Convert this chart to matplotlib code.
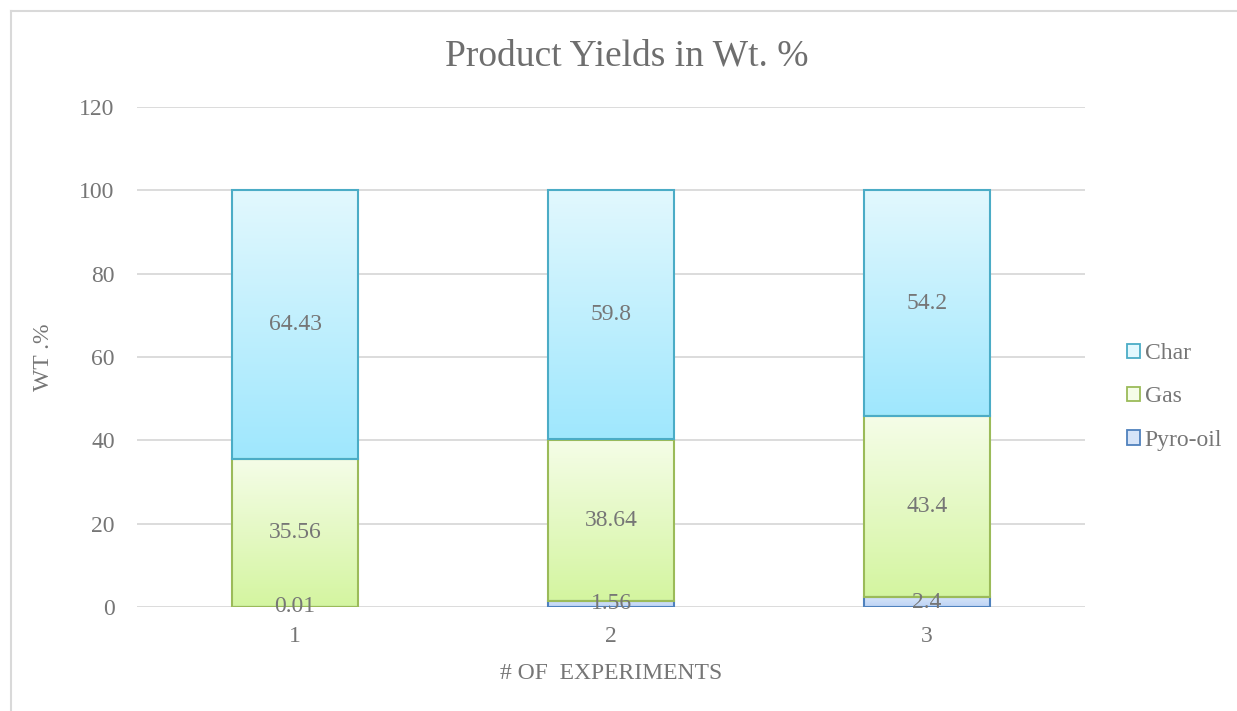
import numpy as np
import matplotlib
matplotlib.use("Agg")
import matplotlib.pyplot as plt
from matplotlib.colors import LinearSegmentedColormap
from matplotlib.patches import Patch
from matplotlib.lines import Line2D

# Data
experiments = ["1", "2", "3"]
pyro_oil = [0.01, 1.56, 2.4]
gas = [35.56, 38.64, 43.4]
char = [64.43, 59.8, 54.2]
series_names = ["Pyro-oil", "Gas", "Char"]
y_ticks = [0, 20, 40, 60, 80, 100, 120]

plt.rcParams["font.family"] = ["Liberation Serif", "DejaVu Serif"]

text_gray = "#767676"
grid_gray = "#d9d9d9"
fs = 17

# (top colour, bottom colour, edge colour) of each series
styles = {
    "Pyro-oil": ("#d6e4f8", "#bcd3f5", "#4f81bd"),
    "Gas": ("#f5fde8", "#d4f5a0", "#9bbb59"),
    "Char": ("#e2f8fe", "#9fe7fd", "#4bacc6"),
}

fig = plt.figure(figsize=(12.37, 7.11), dpi=100)
ax = fig.add_axes([137 / 1237, 1 - 607 / 711, (1085 - 137) / 1237, 500 / 711])

x = np.arange(1, len(experiments) + 1)
width = 0.40
bottom = np.zeros(len(x))
grad = np.linspace(0, 1, 256).reshape(-1, 1)

for name, vals in zip(series_names, [pyro_oil, gas, char]):
    top_c, bot_c, edge_c = styles[name]
    cmap = LinearSegmentedColormap.from_list(name, [top_c, bot_c])
    bars = ax.bar(x, vals, width=width, bottom=bottom, facecolor="none",
                  edgecolor=edge_c, linewidth=1.5, zorder=3)
    for rect, v in zip(bars.patches, vals):
        x0, y0 = rect.get_x(), rect.get_y()
        # gradient runs light at the top of each segment to stronger at its base
        ax.imshow(grad, extent=[x0, x0 + rect.get_width(), y0, y0 + rect.get_height()],
                  cmap=cmap, aspect="auto", origin="upper", zorder=2, interpolation="bilinear")
        ax.text(rect.get_x() + rect.get_width() / 2, y0 + rect.get_height() / 2,
                f"{v:g}", ha="center", va="center", fontsize=fs, color=text_gray, zorder=5)
    bottom = bottom + np.array(vals)

ax.set_xlim(0.5, 3.5)
ax.set_ylim(0, 120)
ax.set_yticks(y_ticks)
ax.set_xticks(x)
ax.set_xticklabels(experiments)
ax.tick_params(axis="both", length=0, labelsize=fs, labelcolor=text_gray)
ax.tick_params(axis="y", pad=16)
ax.tick_params(axis="x", pad=14)
ax.grid(axis="y", color=grid_gray, linewidth=1.3, zorder=0)
ax.set_axisbelow(True)
for s in ax.spines.values():
    s.set_visible(False)

ax.set_ylabel("WT .%", fontsize=fs, color=text_gray, labelpad=18)
ax.set_xlabel("# OF  EXPERIMENTS", fontsize=fs, color=text_gray, labelpad=11)

fig.text(627 / 1237, 1 - 56 / 711, "Product Yields in Wt. %", ha="center", va="center",
         fontsize=27, color="#6e6e6e")

handles = [Patch(facecolor=styles[n][0], edgecolor=styles[n][2], linewidth=1.3)
           for n in ["Char", "Gas", "Pyro-oil"]]
leg = fig.legend(handles, ["Char", "Gas", "Pyro-oil"], loc="center left",
                 bbox_to_anchor=(1127 / 1237, 1 - 397 / 711), bbox_transform=fig.transFigure,
                 frameon=False, fontsize=fs, handlelength=0.55, handleheight=0.55,
                 handletextpad=0.2, labelspacing=0.95, borderpad=0, borderaxespad=0)
for t in leg.get_texts():
    t.set_color(text_gray)

# Chart frame
fig.add_artist(Line2D([10.5 / 1237, 10.5 / 1237], [0, 1 - 11 / 711],
                      transform=fig.transFigure, color=grid_gray, linewidth=1.5))
fig.add_artist(Line2D([10.5 / 1237, 1], [1 - 11 / 711, 1 - 11 / 711],
                      transform=fig.transFigure, color=grid_gray, linewidth=1.5))

fig.savefig("out.png", dpi=100)
